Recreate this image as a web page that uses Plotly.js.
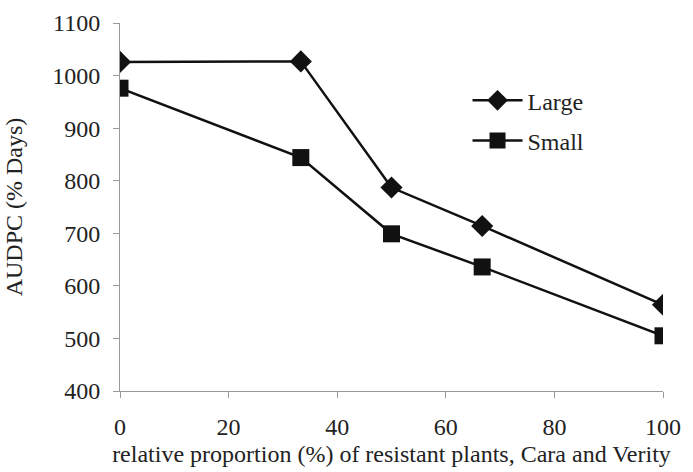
<!DOCTYPE html>
<html>
<head>
<meta charset="utf-8">
<script src="https://cdn.plot.ly/plotly-3.0.1.min.js"></script>
<style>html,body{margin:0;padding:0;background:#fff;}#chart{width:693px;height:472px;}</style>
</head>
<body>
<div id="chart"></div>
<script>
const proportion = [0, 33.3, 50, 66.7, 100];
const largeAUDPC = [1026, 1027, 787, 714, 564];
const smallAUDPC = [976, 844, 699, 636, 505];
const xTicks = [0, 20, 40, 60, 80, 100];
const yTicks = [400, 500, 600, 700, 800, 900, 1000, 1100];

const font = {family: 'Liberation Serif, Times New Roman, serif', color: '#222', size: 24};

const traces = [
  {x: proportion, y: largeAUDPC, name: 'Large', type: 'scatter', mode: 'lines+markers', legendgroup: 'a',
   line: {color: '#111', width: 2.5}, marker: {symbol: 'diamond', size: 17, color: '#111'}},
  {x: proportion, y: smallAUDPC, name: 'Small', type: 'scatter', mode: 'lines+markers', legendgroup: 'b',
   line: {color: '#111', width: 2.5}, marker: {symbol: 'square', size: 17, color: '#111'}}
];

const layout = {
  width: 693, height: 472,
  margin: {l: 120, r: 30, t: 23, b: 81},
  paper_bgcolor: '#fff', plot_bgcolor: '#fff',
  font: font,
  showlegend: true,
  legend: {x: 0.64, y: 0.85, xanchor: 'left', yanchor: 'top', bgcolor: 'rgba(0,0,0,0)',
           font: font, itemwidth: 50, tracegroupgap: 6, traceorder: 'grouped'},
  xaxis: {range: [0, 100], tickvals: xTicks, ticktext: xTicks.map(String),
          showgrid: false, zeroline: false, showline: true, linecolor: '#999', linewidth: 1,
          ticks: 'outside', ticklen: 6, tickcolor: '#999', ticklabelstandoff: 8,
          tickfont: font,
          title: {text: 'relative proportion (%) of resistant plants, Cara and Verity', font: font, standoff: 6}},
  yaxis: {range: [400, 1100], tickvals: yTicks, ticktext: yTicks.map(String),
          showgrid: false, zeroline: false, showline: true, linecolor: '#999', linewidth: 1,
          ticks: 'outside', ticklen: 6, tickcolor: '#999', ticklabelstandoff: 8,
          tickfont: font,
          title: {text: 'AUDPC (% Days)', font: font, standoff: 22}}
};

Plotly.newPlot('chart', traces, layout, {displayModeBar: false, staticPlot: true});
</script>
</body>
</html>
